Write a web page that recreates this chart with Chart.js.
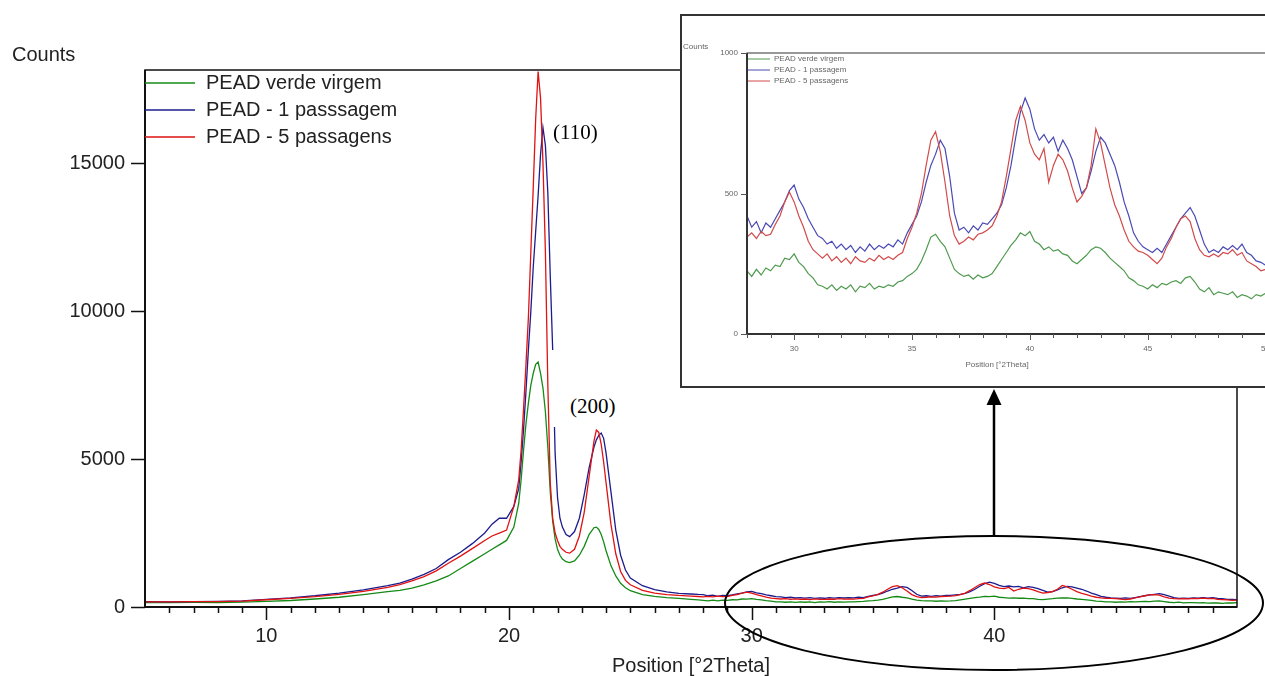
<!DOCTYPE html>
<html><head><meta charset="utf-8">
<script src="https://cdn.jsdelivr.net/npm/chart.js@4.4.1/dist/chart.umd.min.js"></script>
<style>
html,body{margin:0;padding:0;background:#fff;}
body{width:1265px;height:676px;overflow:hidden;position:relative;font-family:"Liberation Sans",Arial,sans-serif;}
#main{position:absolute;left:0;top:0;}
#insetBox{position:absolute;left:680px;top:14px;width:600px;height:374px;background:#fff;}
#inset{position:absolute;left:0;top:0;}
.ann{position:absolute;font-family:"Liberation Serif","Times New Roman",serif;font-size:21px;color:#000;line-height:21px;white-space:nowrap;}
#a110{left:553px;top:122px;}
#a200{left:550px;top:350px;width:115px;height:77px;background:#fff;box-sizing:border-box;padding-left:20px;padding-top:46px;}
#over{position:absolute;left:0;top:0;pointer-events:none;}
</style>
</head>
<body>
<canvas id="main" width="1265" height="676"></canvas>
<div class="ann" id="a110">(110)</div>
<div class="ann" id="a200">(200)</div>
<div id="insetBox"><canvas id="inset" width="600" height="374"></canvas></div>
<svg id="over" width="1265" height="676">
  <ellipse cx="994" cy="603" rx="269" ry="67" fill="none" stroke="#000" stroke-width="2"/>
  <line x1="994" y1="537" x2="994" y2="402" stroke="#000" stroke-width="2.5"/>
  <polygon points="994,389 986.5,405 1001.5,405" fill="#000"/>
</svg>
<script>
// ---- labels / ticks ----
const seriesNames = ["PEAD verde virgem", "PEAD - 1 passsagem", "PEAD - 5 passagens"];
const insetSeriesNames = ["PEAD verde virgem", "PEAD - 1 passagem", "PEAD - 5 passagens"];
const mainXTicks = [10, 20, 30, 40];
const mainYTicks = [0, 5000, 10000, 15000];
const insetXTicks = [30, 35, 40, 45, 50];
const insetYTicks = [0, 500, 1000];

// ---- low-angle part (main chart only), degrees 2Theta ----
const lowAngle = [5,6,7,8,9,10,11,12,13,14,15,15.5,16,16.5,17,17.5,18,18.5,19,19.3,19.6,19.9,20.2,20.4,20.5,20.6,20.7,20.8,20.9,21.0,21.1,21.2,21.3,21.4,21.5,21.6,21.7,21.8,21.9,22.0,22.1,22.2,22.35,22.5,22.7,22.9,23.1,23.3,23.5,23.6,23.7,23.8,23.9,24.0,24.2,24.4,24.6,24.8,25.0,25.5,26,26.5,27,27.5,27.8];
const greenLow = [150,145,155,150,165,190,220,270,330,420,520, 560,640,750,880,1050,1300,1550,1800, 1950,2100,2250,2700, 3500,4300,5300,6200,6900,7500,7900,8200,8280,7900,7400,6600,5400,3900,2900,2300,1950,1750,1620, 1530,1500,1560,1750,2050,2450,2680, 2700,2620,2450,2200,1900, 1400,1050,800,650,550, 420,360,320,290,260,240];
const blueLow = [180,175,185,190,210,260,310,380,470,580,720, 810,940,1100,1300,1600,1850,2150,2500, 2800,3000,3000,3400, 4000,4900,6000,7300,8700,10000,11500,12700,13900,15300,16200,15600,14000,11200,8700,5200,3700,3000,2700, 2450,2380,2550,3000,3800,4700,5400, 5650,5800,5880,5700,5200, 3900,2600,1750,1250,980, 720,590,510,460,440,425];
const redLow = [175,170,180,185,200,245,290,350,430,530,660, 760,880,1030,1220,1480,1720,1980,2250, 2400,2500,2600,3400, 4300,5300,6700,8200,9800,12000,14200,16500,18100,17200,15000,12000,7500,4200,3000,2500,2250,2050,1950, 1850,1820,1950,2400,3200,4400,5600, 5980,5900,5500,4900,4200, 2800,1800,1200,900,750, 560,470,420,390,370,355];

// ---- 28-50 degrees (inset, also used in main chart) ----
const insetAngle = [28,28.2,28.4,28.6,28.8, 29,29.2,29.4,29.6,29.8, 30,30.2,30.4,30.6,30.8, 31,31.2,31.4,31.6,31.8, 32,32.2,32.4,32.6,32.8, 33,33.2,33.4,33.6,33.8, 34,34.2,34.4,34.6,34.8, 35,35.2,35.4,35.6,35.8, 36,36.2,36.4,36.6,36.8, 37,37.2,37.4,37.6,37.8, 38,38.2,38.4,38.6,38.8, 39,39.2,39.4,39.6,39.8, 40,40.2,40.4,40.6,40.8, 41,41.2,41.4,41.6,41.8, 42,42.2,42.4,42.6,42.8, 43,43.2,43.4,43.6,43.8, 44,44.2,44.4,44.6,44.8, 45,45.2,45.4,45.6,45.8, 46,46.2,46.4,46.6,46.8, 47,47.2,47.4,47.6,47.8, 48,48.2,48.4,48.6,48.8, 49,49.2,49.4,49.6,49.8, 50];
const greenHigh = [225,205,230,210,235, 225,245,240,270,265, 285,255,240,215,200, 175,170,160,175,155, 170,160,175,150,170, 165,180,160,170,165, 175,170,185,190,205, 215,230,260,300,345, 355,330,310,270,230, 215,205,210,195,210, 200,205,215,240,265, 290,315,335,360,350, 365,330,320,300,310, 295,300,285,280,260, 250,265,280,300,310, 305,290,270,255,240, 225,200,190,175,170, 160,175,165,180,175, 185,190,180,200,205, 185,160,150,165,140, 150,145,140,150,130, 140,135,125,140,135, 145];
const blueHigh = [420,380,400,360,395, 380,410,440,470,510, 530,480,450,410,380, 350,340,320,330,305, 320,300,315,290,310, 295,320,300,315,305, 320,310,335,320,360, 390,420,470,540,600, 640,690,660,560,430, 370,380,360,385,370, 395,390,410,430,460, 520,600,700,790,840, 800,730,690,710,680, 700,650,690,660,620, 560,500,520,580,650, 700,680,640,600,540, 470,420,360,330,310, 300,290,305,290,320, 350,380,410,430,450, 420,370,320,290,300, 290,310,300,315,300, 320,290,280,260,255, 245];
const redHigh = [345,360,340,365,350, 355,390,420,470,505, 470,420,380,330,300, 285,270,285,260,275, 255,270,250,275,260, 255,270,260,280,265, 275,265,280,290,340, 380,430,500,600,690, 720,650,540,420,350, 320,330,345,335,355, 360,370,385,420,470, 560,660,760,810,760, 680,640,620,660,540, 600,640,620,580,520, 470,490,520,600,730, 680,600,520,460,420, 370,330,310,295,290, 280,265,250,270,310, 340,380,410,420,400, 340,300,280,275,285, 275,290,285,300,280, 290,260,250,240,225, 230];

const mainColors = ["#158a15", "#1c1c8e", "#e01212"];
const insetColors = ["#4f9a4f", "#4a4ab4", "#d24a4a"];
const FONT = '"Liberation Sans", Arial, sans-serif';

function pts(xs, ys) { return xs.map((x, i) => ({x: x, y: ys[i]})); }
const mainSeries = [
  pts(lowAngle, greenLow).concat(pts(insetAngle, greenHigh)),
  pts(lowAngle, blueLow).concat(pts(insetAngle, blueHigh)),
  pts(lowAngle, redLow).concat(pts(insetAngle, redHigh))
];
const insetSeries = [pts(insetAngle, greenHigh), pts(insetAngle, blueHigh), pts(insetAngle, redHigh)];
const drawOrder = [2, 1, 0];

// ---------------- main chart ----------------
const mainFrame = {
  id: 'mainFrame',
  afterDraw(chart) {
    const ctx = chart.ctx, a = chart.chartArea, xs = chart.scales.x, ys = chart.scales.y;
    ctx.save();
    ctx.strokeStyle = '#111';
    ctx.lineWidth = 1.5;
    ctx.strokeRect(a.left, a.top, a.right - a.left, a.bottom - a.top);
    ctx.lineWidth = 2;
    ctx.beginPath();
    ctx.moveTo(a.left, a.top); ctx.lineTo(a.left, a.bottom); ctx.lineTo(a.right, a.bottom);
    ctx.stroke();
    // x ticks: minor every degree, major at labels
    ctx.lineWidth = 1.5;
    ctx.beginPath();
    for (let v = 6; v < 50; v++) {
      const px = Math.round(xs.getPixelForValue(v)) + 0.5;
      const len = mainXTicks.includes(v) ? 13 : 6;
      ctx.moveTo(px, a.bottom); ctx.lineTo(px, a.bottom + len);
    }
    mainYTicks.forEach(v => {
      const py = Math.round(ys.getPixelForValue(v)) + 0.5;
      ctx.moveTo(a.left - 14, py); ctx.lineTo(a.left, py);
    });
    ctx.stroke();
    // y title
    ctx.fillStyle = '#222';
    ctx.font = '20px ' + FONT;
    ctx.textAlign = 'left'; ctx.textBaseline = 'middle';
    ctx.fillText('Counts', 12, 55);
    // legend
    const rows = [83, 110, 137];
    seriesNames.forEach((n, i) => {
      ctx.strokeStyle = mainColors[i]; ctx.lineWidth = 1.5;
      ctx.beginPath(); ctx.moveTo(a.left, rows[i]); ctx.lineTo(a.left + 50, rows[i]); ctx.stroke();
      ctx.fillStyle = '#222';
      ctx.fillText(n, a.left + 61, rows[i]);
    });
    ctx.restore();
  }
};

new Chart(document.getElementById('main'), {
  type: 'line',
  data: {
    datasets: mainSeries.map((d, i) => ({
      label: seriesNames[i], data: d, borderColor: mainColors[i], borderWidth: 1.3,
      pointRadius: 0, tension: 0, fill: false, order: drawOrder[i]
    }))
  },
  options: {
    responsive: false, animation: false, devicePixelRatio: 1,
    layout: {padding: {top: 70, right: 28, left: 0, bottom: 0}},
    plugins: {legend: {display: false}, tooltip: {enabled: false}},
    scales: {
      x: {
        type: 'linear', min: 5, max: 50,
        afterBuildTicks: s => { s.ticks = mainXTicks.map(v => ({value: v})); },
        afterFit: s => { s.height = 69; },
        grid: {display: false, drawTicks: false}, border: {display: false},
        ticks: {font: {family: FONT, size: 20}, color: '#222', padding: 17, maxRotation: 0, autoSkip: false, callback: v => String(v)},
        title: {display: true, text: 'Position [°2Theta]', font: {family: FONT, size: 20, lineHeight: 1}, color: '#222', padding: 0}
      },
      y: {
        type: 'linear', min: 0, max: 18150,
        afterBuildTicks: s => { s.ticks = mainYTicks.map(v => ({value: v})); },
        afterFit: s => { s.width = 145; },
        grid: {display: false, drawTicks: false}, border: {display: false},
        ticks: {font: {family: FONT, size: 20}, color: '#222', padding: 20, autoSkip: false, callback: v => String(v)}
      }
    }
  },
  plugins: [mainFrame]
});

// ---------------- inset chart ----------------
const insetFrame = {
  id: 'insetFrame',
  beforeDraw(chart) {
    const ctx = chart.ctx;
    ctx.save();
    ctx.fillStyle = '#fff';
    ctx.fillRect(0, 0, chart.width, chart.height);
    ctx.strokeStyle = '#333'; ctx.lineWidth = 2;
    ctx.strokeRect(1, 1, chart.width + 10, chart.height - 2);
    ctx.restore();
  },
  afterDraw(chart) {
    const ctx = chart.ctx, a = chart.chartArea, xs = chart.scales.x, ys = chart.scales.y;
    ctx.save();
    ctx.strokeStyle = '#555'; ctx.lineWidth = 1.2;
    ctx.strokeRect(a.left, a.top, a.right - a.left + 20, a.bottom - a.top);
    ctx.strokeStyle = '#333'; ctx.lineWidth = 2;
    ctx.beginPath();
    ctx.moveTo(a.left, a.top); ctx.lineTo(a.left, a.bottom); ctx.lineTo(a.right + 20, a.bottom);
    ctx.stroke();
    ctx.strokeStyle = '#555'; ctx.lineWidth = 1;
    ctx.beginPath();
    for (let v = 28; v <= 50; v++) {
      const px = Math.round(xs.getPixelForValue(v)) + 0.5;
      const len = insetXTicks.includes(v) ? 6 : 4;
      ctx.moveTo(px, a.bottom); ctx.lineTo(px, a.bottom + len);
    }
    insetYTicks.forEach(v => {
      const py = Math.round(ys.getPixelForValue(v)) + 0.5;
      ctx.moveTo(a.left - 6, py); ctx.lineTo(a.left, py);
    });
    ctx.stroke();
    ctx.fillStyle = '#666';
    ctx.font = '8px ' + FONT;
    ctx.textBaseline = 'middle'; ctx.textAlign = 'left';
    ctx.fillText('Counts', 3, 33);
    const rows = [45, 56, 67];
    insetSeriesNames.forEach((n, i) => {
      ctx.strokeStyle = insetColors[i]; ctx.lineWidth = 1;
      ctx.beginPath(); ctx.moveTo(a.left + 1, rows[i]); ctx.lineTo(a.left + 23, rows[i]); ctx.stroke();
      ctx.fillText(n, a.left + 27, rows[i]);
    });
    ctx.textAlign = 'center';
    ctx.fillText('Position [°2Theta]', 317, 351);
    ctx.restore();
  }
};

new Chart(document.getElementById('inset'), {
  type: 'line',
  data: {
    datasets: insetSeries.map((d, i) => ({
      label: insetSeriesNames[i], data: d, borderColor: insetColors[i], borderWidth: 1.2,
      pointRadius: 0, tension: 0, fill: false, order: drawOrder[i]
    }))
  },
  options: {
    responsive: false, animation: false, devicePixelRatio: 1,
    layout: {padding: {top: 39, right: 14, left: 0, bottom: 0}},
    plugins: {legend: {display: false}, tooltip: {enabled: false}},
    scales: {
      x: {
        type: 'linear', min: 28, max: 50,
        afterBuildTicks: s => { s.ticks = insetXTicks.map(v => ({value: v})); },
        afterFit: s => { s.height = 54; },
        grid: {display: false, drawTicks: false}, border: {display: false},
        ticks: {font: {family: FONT, size: 8}, color: '#666', padding: 10, maxRotation: 0, autoSkip: false, callback: v => String(v)}
      },
      y: {
        type: 'linear', min: 0, max: 1000,
        afterBuildTicks: s => { s.ticks = insetYTicks.map(v => ({value: v})); },
        afterFit: s => { s.width = 67; },
        grid: {display: false, drawTicks: false}, border: {display: false},
        ticks: {font: {family: FONT, size: 8}, color: '#666', padding: 9, autoSkip: false, callback: v => String(v)}
      }
    }
  },
  plugins: [insetFrame]
});
</script>
</body></html>
